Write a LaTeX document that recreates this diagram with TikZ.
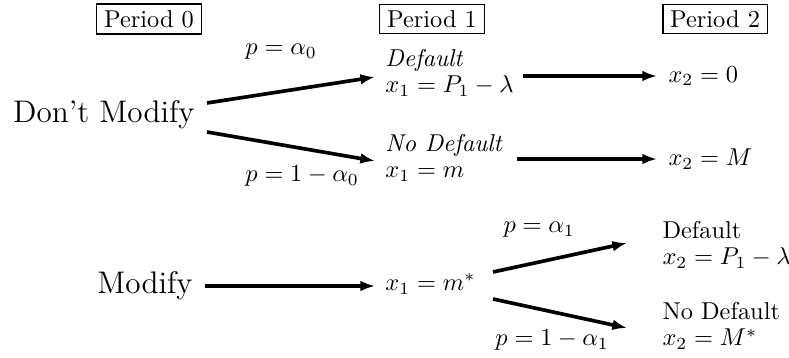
\documentclass[tikz,border=0pt]{standalone}
\usepackage{amsmath,amssymb}
\usepackage{tikz}
\usetikzlibrary{arrows.meta}

\begin{document}
\begin{tikzpicture}[
  x=0.41pt, y=-0.41pt,
  period/.style={draw, line width=0.6pt, inner xsep=3pt, inner ysep=2.5pt, font=\fontsize{10}{12}\selectfont},
  choice/.style={inner sep=0pt, anchor=base east, font=\fontsize{12.8}{15}\selectfont},
  state/.style={inner sep=0pt, anchor=west, align=left, font=\fontsize{10}{10.8}\selectfont},
  prob/.style={inner sep=0pt, anchor=west, font=\fontsize{10}{12}\selectfont},
  arr/.style={-{Latex[length=6pt,width=4.4pt]}, line width=1.5pt}
]
  \useasboundingbox (0,0) rectangle (789,358);

  % period headers
  \node[period] (per0) at (149,19) {Period 0};
  \node[period] (per1) at (432,19) {Period 1};
  \node[period] (per2) at (715,19) {Period 2};

  % don't modify branch
  \node[choice] (nomod) at (195,123) {Don't Modify};
  \node[state] (dflt1) at (385,73) {\textit{Default}\\$x_1 = P_1 - \lambda$};
  \node[state] (nodflt1) at (385,158) {\textit{No Default}\\$x_1 = m$};
  \node[state] (zero2) at (668,76) {$x_2 = 0$};
  \node[state] (full2) at (668,159) {$x_2 = M$};
  \node[prob] (pa0) at (245,52) {$p = \alpha_0$};
  \node[prob] (pb0) at (245,176) {$p = 1 - \alpha_0$};

  \draw[arr] ([shift={(12,-20)}]nomod.base east) -- ([shift={(-10,4)}]dflt1.west);
  \draw[arr] ([shift={(12,9)}]nomod.base east) -- ([shift={(-10,3)}]nodflt1.west);
  \draw[arr] ([shift={(9,3)}]dflt1.east) -- ([shift={(-11,0)}]zero2.west);
  \draw[arr] ([shift={(14,1)}]nodflt1.east) -- ([shift={(-11,0)}]full2.west);

  % modify branch
  \node[choice] (mod) at (193,293) {Modify};
  \node[state] (mstar) at (385,284) {$x_1 = m^*$};
  \node[state] (dflt2) at (662,245) {Default\\$x_2 = P_1 - \lambda$};
  \node[state] (nodflt2) at (662,326) {No Default\\$x_2 = M^*$};
  \node[prob] (pa1) at (503,230) {$p = \alpha_1$};
  \node[prob] (pb1) at (495,340) {$p = 1 - \alpha_1$};

  \draw[arr] ([shift={(12,-7)}]mod.base east) -- ([shift={(-10,2)}]mstar.west);
  \draw[arr] ([shift={(17,-12)}]mstar.east) -- ([shift={(-35,-2)}]dflt2.west);
  \draw[arr] ([shift={(17,15)}]mstar.east) -- ([shift={(-35,2)}]nodflt2.west);
\end{tikzpicture}
\end{document}
